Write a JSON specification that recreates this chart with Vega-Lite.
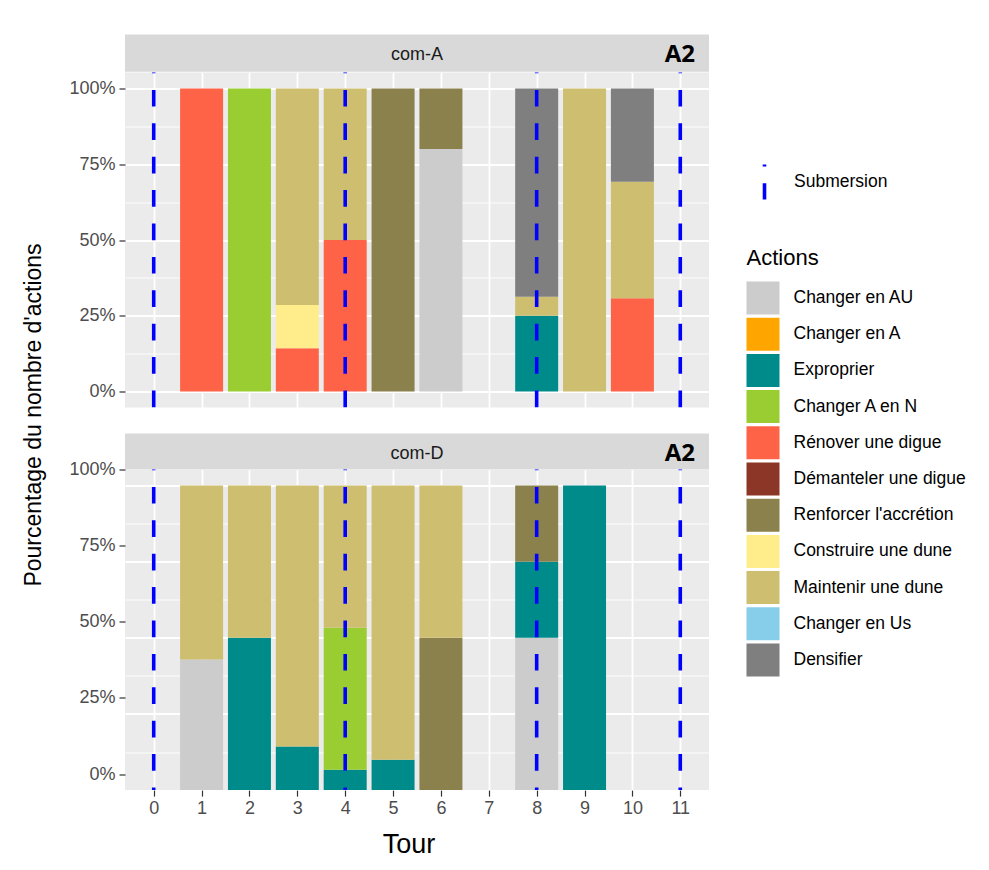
{
  "$schema": "https://vega.github.io/schema/vega-lite/v6.json",
  "background": "#FFFFFF",
  "padding": {"left": 22, "top": 34.5, "right": 5, "bottom": 5},
  "config": {
    "font": "Liberation Sans",
    "view": {"fill": "#EBEBEB", "stroke": null},
    "axis": {
      "labelColor": "#4D4D4D",
      "labelFontSize": 18,
      "labelFont": "Liberation Sans",
      "tickColor": "#333333",
      "tickSize": 6,
      "tickWidth": 1.2,
      "domain": false,
      "gridColor": "#FFFFFF",
      "gridOpacity": 1,
      "labelPadding": 4,
      "titleFont": "Liberation Sans",
      "titleFontWeight": "normal",
      "titleColor": "#000000"
    }
  },
  "datasets": {
    "actions": [
      {"panel": "com-A", "Tour": 1, "action": "Rénover une digue", "n": 1},
      {"panel": "com-A", "Tour": 2, "action": "Changer A en N", "n": 1},
      {"panel": "com-A", "Tour": 3, "action": "Rénover une digue", "n": 1},
      {"panel": "com-A", "Tour": 3, "action": "Construire une dune", "n": 1},
      {"panel": "com-A", "Tour": 3, "action": "Maintenir une dune", "n": 5},
      {"panel": "com-A", "Tour": 4, "action": "Rénover une digue", "n": 1},
      {"panel": "com-A", "Tour": 4, "action": "Maintenir une dune", "n": 1},
      {"panel": "com-A", "Tour": 5, "action": "Renforcer l'accrétion", "n": 1},
      {"panel": "com-A", "Tour": 6, "action": "Changer en AU", "n": 4},
      {"panel": "com-A", "Tour": 6, "action": "Renforcer l'accrétion", "n": 1},
      {"panel": "com-A", "Tour": 8, "action": "Exproprier", "n": 4},
      {"panel": "com-A", "Tour": 8, "action": "Maintenir une dune", "n": 1},
      {"panel": "com-A", "Tour": 8, "action": "Densifier", "n": 11},
      {"panel": "com-A", "Tour": 9, "action": "Maintenir une dune", "n": 1},
      {"panel": "com-A", "Tour": 10, "action": "Rénover une digue", "n": 4},
      {"panel": "com-A", "Tour": 10, "action": "Maintenir une dune", "n": 5},
      {"panel": "com-A", "Tour": 10, "action": "Densifier", "n": 4},
      {"panel": "com-D", "Tour": 1, "action": "Changer en AU", "n": 3},
      {"panel": "com-D", "Tour": 1, "action": "Maintenir une dune", "n": 4},
      {"panel": "com-D", "Tour": 2, "action": "Exproprier", "n": 1},
      {"panel": "com-D", "Tour": 2, "action": "Maintenir une dune", "n": 1},
      {"panel": "com-D", "Tour": 3, "action": "Exproprier", "n": 1},
      {"panel": "com-D", "Tour": 3, "action": "Maintenir une dune", "n": 6},
      {"panel": "com-D", "Tour": 4, "action": "Exproprier", "n": 1},
      {"panel": "com-D", "Tour": 4, "action": "Changer A en N", "n": 7},
      {"panel": "com-D", "Tour": 4, "action": "Maintenir une dune", "n": 7},
      {"panel": "com-D", "Tour": 5, "action": "Exproprier", "n": 1},
      {"panel": "com-D", "Tour": 5, "action": "Maintenir une dune", "n": 9},
      {"panel": "com-D", "Tour": 6, "action": "Renforcer l'accrétion", "n": 1},
      {"panel": "com-D", "Tour": 6, "action": "Maintenir une dune", "n": 1},
      {"panel": "com-D", "Tour": 8, "action": "Changer en AU", "n": 2},
      {"panel": "com-D", "Tour": 8, "action": "Exproprier", "n": 1},
      {"panel": "com-D", "Tour": 8, "action": "Renforcer l'accrétion", "n": 1},
      {"panel": "com-D", "Tour": 9, "action": "Exproprier", "n": 1}
    ],
    "submersion": [
      {"Tour": 0, "event": "Submersion"},
      {"Tour": 4, "event": "Submersion"},
      {"Tour": 8, "event": "Submersion"},
      {"Tour": 11, "event": "Submersion"}
    ]
  },
  "bounds": "flush",
  "spacing": 0,
  "resolve": {
    "scale": {"x": "independent", "y": "independent", "color": "shared", "stroke": "shared"},
    "legend": {"color": "shared", "stroke": "shared"}
  },
  "vconcat": [
    {
      "width": 584,
      "height": 37.2,
      "view": {"fill": "#D9D9D9", "stroke": null},
      "data": {"values": [{"panel": "com-A", "tag": "A2"}]},
      "layer": [
        {
          "mark": {"type": "text", "fontSize": 18, "color": "#1A1A1A", "font": "Liberation Sans", "baseline": "middle", "dy": 2},
          "encoding": {"text": {"field": "panel"}}
        },
        {
          "mark": {"type": "text", "fontSize": 24, "fontWeight": "bold", "font": "Open Sans", "align": "right", "baseline": "middle", "color": "#000000", "dx": -14, "dy": 2},
          "encoding": {
            "text": {"field": "tag"},
            "x": {"datum": 11.6, "type": "quantitative", "scale": {"domain": [-0.6, 11.6], "nice": false, "zero": false, "padding": 0}, "axis": null}
          }
        }
      ]
    },
    {
      "width": 584,
      "height": 335,
      "layer": [
        {
          "data": {"name": "actions"},
          "transform": [
            {"filter": "datum.panel === 'com-A'"},
            {"calculate": "indexof([\"Changer en AU\",\"Changer en A\",\"Exproprier\",\"Changer A en N\",\"Rénover une digue\",\"Démanteler une digue\",\"Renforcer l'accrétion\",\"Construire une dune\",\"Maintenir une dune\",\"Changer en Us\",\"Densifier\"], datum.action)", "as": "rank"}
          ],
          "mark": {"type": "bar", "size": 43},
          "encoding": {
            "x": {
              "field": "Tour", "type": "quantitative",
              "scale": {"domain": [-0.6, 11.6], "nice": false, "zero": false, "padding": 0},
              "axis": {"values": [0,1,2,3,4,5,6,7,8,9,10,11], "labels": false, "ticks": false, "title": null, "grid": true, "gridWidth": 1.8}
            },
            "y": {
              "field": "n", "type": "quantitative", "stack": "normalize",
              "scale": {"domain": [-0.0526, 1.0526], "nice": false, "zero": false, "padding": 0},
              "axis": {
                "values": [0, 0.125, 0.25, 0.375, 0.5, 0.625, 0.75, 0.875, 1],
                "format": ".0%",
                "labelExpr": "(datum.value * 8) % 2 == 1 ? '' : datum.label",
                "tickOpacity": {"condition": {"test": "(datum.value * 8) % 2 == 1", "value": 0}, "value": 1},
                "gridWidth": {"condition": {"test": "(datum.value * 8) % 2 == 1", "value": 0.9}, "value": 1.8},
                "title": "Pourcentage du nombre d'actions",
                "titleFontSize": 23,
                "titleAngle": -90,
                "titleX": -92,
                "titleY": 342,
                "titleAlign": "center",
                "titleBaseline": "middle"
              }
            },
            "color": {
              "field": "action", "type": "nominal",
              "scale": {
                "domain": ["Changer en AU","Changer en A","Exproprier","Changer A en N","Rénover une digue","Démanteler une digue","Renforcer l'accrétion","Construire une dune","Maintenir une dune","Changer en Us","Densifier"],
                "range": ["#CCCCCC","#FFA500","#008B8B","#9ACD32","#FF6347","#8B3626","#8B814C","#FFEC8B","#CDBE70","#87CEEB","#7F7F7F"]
              },
              "legend": {
                "orient": "none", "legendX": 621.5, "legendY": 213,
                "title": "Actions", "titleFontSize": 22, "titleFont": "Liberation Sans", "titleFontWeight": "normal", "titleColor": "#000000", "titlePadding": 12,
                "symbolType": "square", "symbolSize": 1089, "symbolStrokeWidth": 0, "symbolOpacity": 1,
                "rowPadding": 3.2, "labelFontSize": 17.5, "labelOffset": 14, "labelFont": "Liberation Sans", "labelColor": "#000000", "labelLimit": 300
              }
            },
            "order": {"field": "rank", "type": "quantitative"}
          }
        },
        {
          "data": {"name": "submersion"},
          "mark": {"type": "rule", "strokeWidth": 3.6, "strokeDash": [16.7, 16.7], "strokeDashOffset": 16},
          "encoding": {
            "x": {"field": "Tour", "type": "quantitative"},
            "stroke": {
              "field": "event", "type": "nominal",
              "scale": {"domain": ["Submersion"], "range": ["#0000FF"]},
              "legend": {
                "orient": "none", "legendX": 620, "legendY": 128,
                "title": null,
                "symbolType": "M0,-1L0,1", "symbolSize": 1225, "symbolStrokeWidth": 3.6,
                "symbolDash": [16.7, 16.7], "symbolDashOffset": 14.7,
                "labelFontSize": 17.5, "labelOffset": 10, "labelFont": "Liberation Sans", "labelColor": "#000000"
              }
            }
          }
        }
      ]
    },
    {
      "width": 584,
      "height": 26,
      "view": {"fill": null, "stroke": null},
      "data": {"values": [{}]},
      "mark": {"type": "rule", "opacity": 0},
      "encoding": {}
    },
    {
      "width": 584,
      "height": 36,
      "view": {"fill": "#D9D9D9", "stroke": null},
      "data": {"values": [{"panel": "com-D", "tag": "A2"}]},
      "layer": [
        {
          "mark": {"type": "text", "fontSize": 18, "color": "#1A1A1A", "font": "Liberation Sans", "baseline": "middle", "dy": 2},
          "encoding": {"text": {"field": "panel"}}
        },
        {
          "mark": {"type": "text", "fontSize": 24, "fontWeight": "bold", "font": "Open Sans", "align": "right", "baseline": "middle", "color": "#000000", "dx": -14, "dy": 2},
          "encoding": {
            "text": {"field": "tag"},
            "x": {"datum": 11.6, "type": "quantitative", "scale": {"domain": [-0.6, 11.6], "nice": false, "zero": false, "padding": 0}, "axis": null}
          }
        }
      ]
    },
    {
      "width": 584,
      "height": 320.6,
      "resolve": {"scale": {"y": "independent"}, "axis": {"y": "independent"}},
      "layer": [
        {
          "data": {"name": "actions"},
          "transform": [
            {"filter": "datum.panel === 'com-D'"},
            {"calculate": "indexof([\"Changer en AU\",\"Changer en A\",\"Exproprier\",\"Changer A en N\",\"Rénover une digue\",\"Démanteler une digue\",\"Renforcer l'accrétion\",\"Construire une dune\",\"Maintenir une dune\",\"Changer en Us\",\"Densifier\"], datum.action)", "as": "rank"}
          ],
          "mark": {"type": "bar", "size": 43},
          "encoding": {
            "x": {
              "field": "Tour", "type": "quantitative",
              "scale": {"domain": [-0.6, 11.6], "nice": false, "zero": false, "padding": 0},
              "axis": {
                "values": [0,1,2,3,4,5,6,7,8,9,10,11], "grid": true, "gridWidth": 1.8,
                "labelPadding": 3,
                "title": "Tour", "titleFontSize": 27, "titleX": 283.5, "titleY": 54, "titleAlign": "center", "titleBaseline": "middle"
              }
            },
            "y": {
              "field": "n", "type": "quantitative", "stack": "normalize",
              "scale": {"domain": [0, 1.0526], "nice": false, "zero": false, "padding": 0},
              "axis": {
                "orient": "right",
                "values": [0, 0.125, 0.25, 0.375, 0.5, 0.625, 0.75, 0.875, 1],
                "labels": false, "ticks": false, "title": null,
                "gridWidth": {"condition": {"test": "(datum.value * 8) % 2 == 1", "value": 0.9}, "value": 1.8}
              }
            },
            "color": {
              "field": "action", "type": "nominal",
              "scale": {
                "domain": ["Changer en AU","Changer en A","Exproprier","Changer A en N","Rénover une digue","Démanteler une digue","Renforcer l'accrétion","Construire une dune","Maintenir une dune","Changer en Us","Densifier"],
                "range": ["#CCCCCC","#FFA500","#008B8B","#9ACD32","#FF6347","#8B3626","#8B814C","#FFEC8B","#CDBE70","#87CEEB","#7F7F7F"]
              }
            },
            "order": {"field": "rank", "type": "quantitative"}
          }
        },
        {
          "data": {"name": "submersion"},
          "mark": {"type": "rule", "strokeWidth": 3.6, "strokeDash": [16.7, 16.7], "strokeDashOffset": 16},
          "encoding": {
            "x": {"field": "Tour", "type": "quantitative"},
            "stroke": {
              "field": "event", "type": "nominal",
              "scale": {"domain": ["Submersion"], "range": ["#0000FF"]}
            }
          }
        },
        {
          "data": {"values": [{}]},
          "mark": {"type": "rule", "opacity": 0},
          "encoding": {
            "y": {
              "datum": 0, "type": "quantitative",
              "scale": {"domain": [-0.0526, 1], "nice": false, "zero": false, "padding": 0},
              "axis": {"orient": "left", "values": [0, 0.25, 0.5, 0.75, 1], "format": ".0%", "grid": false, "title": null}
            }
          }
        }
      ]
    }
  ]
}
